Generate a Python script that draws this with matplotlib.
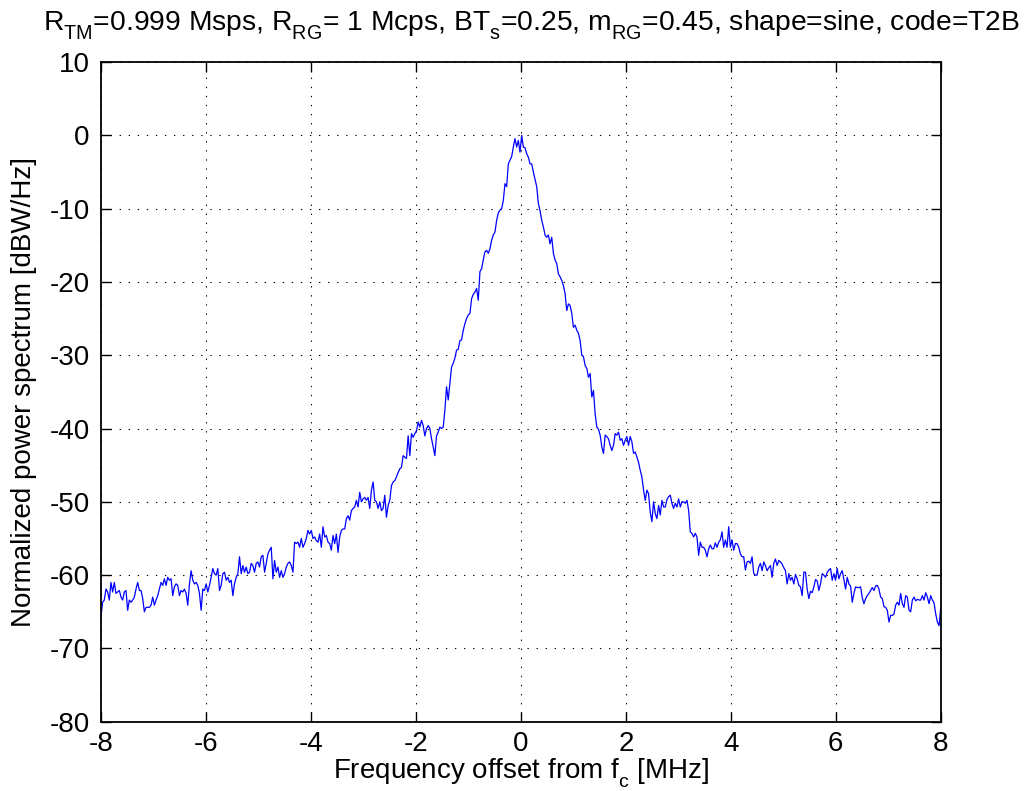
"""Normalized power spectrum of the TM/RG signal, MATLAB-style PNG."""

import matplotlib
matplotlib.use("Agg")
import matplotlib.pyplot as plt
import numpy as np
from matplotlib import _mathtext

plt.rcParams["font.family"] = ["Liberation Sans", "DejaVu Sans"]
plt.rcParams["mathtext.fontset"] = "custom"
plt.rcParams["mathtext.rm"] = "Liberation Sans"
plt.rcParams["mathtext.it"] = "Liberation Sans"
plt.rcParams["mathtext.default"] = "regular"
plt.rcParams["axes.unicode_minus"] = False
# MATLAB drops its subscripts further below the baseline
_mathtext.FontConstantsBase.sub1 = 0.65

# spectrum, uniform frequency grid from -8 to 8 MHz
psd_left_wing = [
    -65.7, -63.7, -63.4, -61.9, -62.3, -63.4, -61.0, -62.3, -61.0, -62.5,
    -62.3, -62.1, -63.0, -63.4, -62.3, -62.1, -64.8, -63.4, -63.7, -63.4,
    -63.0, -61.9, -61.0, -62.1, -62.1, -63.2, -65.0, -64.4, -64.4, -64.4,
    -64.1, -63.0, -64.1, -63.4, -62.8, -61.9, -61.0, -61.4, -60.5, -61.4,
    -60.3, -60.7, -60.5, -62.8, -61.6, -61.2, -61.4, -62.8, -62.1, -62.3,
    -61.9, -62.5, -64.1, -61.2, -59.4, -60.7, -61.2, -61.0, -61.4, -62.5,
    -64.8, -61.9, -62.1, -61.2, -62.3, -61.4, -60.3, -59.1, -59.8, -60.0,
    -59.1, -62.1, -61.4, -59.8, -59.6, -60.7, -60.3, -61.0, -60.7, -62.8,
    -61.2, -60.3, -59.8, -57.5, -59.8, -58.7, -59.6, -58.9, -59.8, -59.6,
    -58.4, -58.7, -59.6, -58.4, -58.2, -58.9, -57.5, -57.3, -59.6, -58.4,
    -57.1, -56.6, -56.2, -60.5, -58.0, -59.6, -58.9, -60.3, -59.4, -60.3,
    -59.8, -58.9, -58.4, -58.2, -58.7, -59.6, -55.5, -55.7, -55.5, -56.2,
    -55.0, -56.2, -55.7, -55.0, -53.9, -54.4, -53.9, -55.0, -54.8, -55.3,
    -55.5,
]
psd_left_shoulder = [
    -54.4, -56.2, -53.4, -54.8, -54.6, -55.5, -55.7, -56.6, -54.6, -55.7,
    -54.4, -56.9, -54.8, -53.9, -53.7, -53.7, -52.3, -51.9, -52.5, -51.2,
    -50.9, -50.7, -49.8, -50.7, -48.7, -50.0, -49.6, -49.4, -49.8, -49.4,
    -50.9, -48.4, -47.3, -49.8, -50.0, -50.9, -50.0, -51.2, -50.9, -49.1,
    -52.1, -50.5, -49.8, -47.8, -47.3, -47.1, -46.6, -46.0, -45.5, -45.3,
    -43.7, -43.9, -44.1, -41.0, -43.7, -40.7, -41.2, -40.7, -40.3, -39.1,
    -39.8, -38.9, -39.6, -41.0, -40.0, -39.6, -40.0, -41.4, -42.5, -43.7,
    -41.0, -40.5,
]
psd_main_rise = [
    -39.8, -40.0, -39.8, -37.5, -34.3, -36.1, -33.9, -31.6, -31.1, -30.4,
    -29.3, -29.2, -28.0, -27.9, -26.6, -25.7, -25.0, -24.5, -24.3, -22.3,
    -21.7, -21.4, -20.9, -22.5, -18.6, -18.2, -17.0, -15.9, -15.7, -16.1,
    -15.5, -14.3, -13.6, -13.2, -11.6, -10.6, -10.2, -10.0, -8.9, -6.6,
    -7.0, -3.9, -3.4, -2.9, -1.6, -0.45, -1.6,
]
psd_main_fall = [
    -0.7, -2.3, 0.0, -1.6, -1.7, -2.5, -3.0, -3.9, -3.9, -5.0,
    -6.0, -7.0, -9.3, -10.3, -11.6, -12.5, -13.6, -13.9, -13.6, -14.8,
    -13.9, -16.1, -17.0, -17.5, -18.9, -19.3, -19.8, -20.5, -21.6, -23.9,
    -23.0, -23.2, -24.3, -26.2, -25.9, -26.6, -27.0, -28.0, -30.0, -30.2,
    -31.4, -31.8, -33.0, -32.5, -35.7, -34.8, -38.0, -39.8, -40.1, -40.9,
    -42.5, -43.4, -40.9, -41.1, -41.4, -42.3, -43.0, -42.3, -40.7, -40.9,
    -40.5, -41.6, -41.4, -42.3, -41.6,
]
psd_right_shoulder = [
    -41.1, -42.3, -41.1, -41.8, -43.4, -43.2, -43.9, -44.6, -45.7, -46.6,
    -48.4, -49.8, -48.4, -48.9, -51.4, -52.7, -50.0, -51.6, -52.3, -50.5,
    -51.8, -49.8, -50.7, -50.7, -49.7, -49.3, -49.1, -50.2, -50.9, -50.2,
    -50.7, -49.6, -50.7, -50.0, -50.0, -50.2, -49.8, -51.2, -54.1, -54.3,
    -54.8, -54.3, -54.8, -57.3, -55.5, -56.2, -56.2, -56.6, -57.5, -56.4,
    -55.9, -56.4, -56.4, -55.6, -56.2, -55.5, -55.2, -54.1, -56.2, -55.2,
    -56.2, -53.4, -56.2, -55.2, -56.6, -55.7, -55.7, -56.2, -57.1, -57.5,
    -57.5, -59.3, -58.2, -58.1, -58.4, -57.5, -59.8, -60.0, -60.0, -58.9,
    -58.4,
]
psd_right_wing = [
    -59.4, -58.2, -58.7, -59.4, -59.0, -58.7, -60.3, -58.4, -57.8, -58.7,
    -58.0, -58.2, -58.5, -59.0, -59.4, -61.2, -59.8, -60.7, -60.3, -61.2,
    -59.9, -60.5, -61.4, -61.6, -62.8, -59.6, -59.6, -61.9, -63.2, -62.2,
    -62.4, -61.6, -60.6, -60.8, -62.1, -61.2, -59.8, -60.0, -60.3, -59.6,
    -59.3, -59.1, -60.7, -59.8, -60.7, -59.1, -60.5, -59.8, -59.4, -60.6,
    -61.9, -60.3, -61.2, -61.5, -63.7, -62.5, -61.6, -61.7, -61.7, -61.6,
    -63.1, -63.9, -63.2, -62.8, -62.5, -62.1, -61.7, -62.1, -61.5, -61.4,
    -61.9, -63.0, -63.2, -64.3, -64.4, -64.8, -66.4, -65.5, -65.5, -65.3,
    -64.1, -63.7, -64.1, -62.5, -63.9, -64.4, -62.8, -63.0, -64.8, -65.0,
    -63.4, -63.0, -63.5, -63.3, -63.4, -63.4, -62.8, -63.4, -62.4, -63.0,
    -63.9, -62.8, -63.4, -63.8, -65.3, -66.4, -66.9, -64.4,
]

psd_db = np.array(
    psd_left_wing + psd_left_shoulder + psd_main_rise
    + psd_main_fall + psd_right_shoulder + psd_right_wing
)
freq_mhz = np.linspace(-8, 8, len(psd_db))

x_ticks = [-8, -6, -4, -2, 0, 2, 4, 6, 8]
y_ticks = [10, 0, -10, -20, -30, -40, -50, -60, -70, -80]

title = (r"$R_{TM}$=0.999 Msps, $R_{RG}$= 1 Mcps, $BT_{s}$=0.25, "
         r"$m_{RG}$=0.45, shape=sine, code=T2B")

fig = plt.figure(figsize=(10.27, 7.91), dpi=100)
ax = fig.add_axes([0.0983, 0.0876, 0.8177, 0.834])

ax.plot(freq_mhz, psd_db, color="#0000ff", linewidth=0.9)

ax.set_xlim(-8, 8)
ax.set_ylim(-80, 10)
ax.set_xticks(x_ticks)
ax.set_yticks(y_ticks)
ax.grid(True, color="k", linestyle=(0, (1.3, 7.4)), linewidth=0.75)
ax.tick_params(direction="in", top=True, right=True, length=7, width=1,
               labelsize=20, pad=8)
ax.tick_params(axis="x", pad=6.5)
for spine in ax.spines.values():
    spine.set_linewidth(1.3)

# baseline placed by hand, MATLAB puts the title a little right of centre
ax.set_title(title, fontsize=20.3, x=0.513, y=1.0485, pad=0, va="baseline")
ax.set_xlabel(r"Frequency offset from $f_{c}$ [MHz]", fontsize=20, labelpad=0)
ax.set_ylabel("Normalized power spectrum [dBW/Hz]", fontsize=20, labelpad=9)

fig.savefig("out.png", dpi=100)
plt.close(fig)
